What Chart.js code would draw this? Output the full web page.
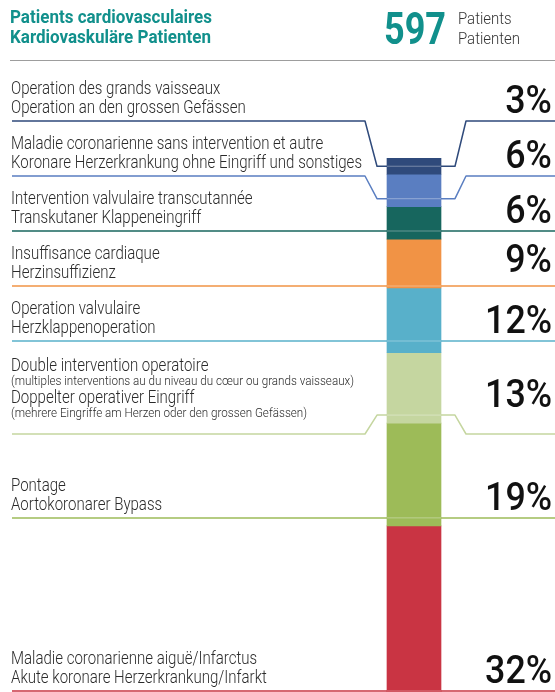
<!DOCTYPE html>
<html>
<head>
<meta charset="utf-8">
<script src="https://cdn.jsdelivr.net/npm/chart.js@4/dist/chart.umd.min.js"></script>
<style>
html, body { margin: 0; padding: 0; width: 555px; height: 692px; overflow: hidden; background: #fff; }
#wrap { position: relative; width: 555px; height: 700px; }
#chart { position: absolute; left: 0; top: 0; }
.txt { position: absolute; white-space: nowrap; line-height: normal; }
#rule { position: absolute; left: 10px; right: 0; top: 60px; border-top: 1.5px solid #9d9d9d; }
</style>
</head>
<body>
<div id="wrap">
    <canvas id="chart" width="555" height="700"></canvas>
    <div id="rule"></div>
    <div id="texts"></div>
</div>
<script>
// Data
const shares = [3, 6, 6, 9, 12, 13, 19, 32]
const namesFr = [
    'Operation des grands vaisseaux',
    'Maladie coronarienne sans intervention et autre',
    'Intervention valvulaire transcutannée',
    'Insuffisance cardiaque',
    'Operation valvulaire',
    'Double intervention operatoire',
    'Pontage',
    'Maladie coronarienne aiguë/Infarctus'
]
const namesDe = [
    'Operation an den grossen Gefässen',
    'Koronare Herzerkrankung ohne Eingriff und sonstiges',
    'Transkutaner Klappeneingriff',
    'Herzinsuffizienz',
    'Herzklappenoperation',
    'Doppelter operativer Eingriff',
    'Aortokoronarer Bypass',
    'Akute koronare Herzerkrankung/Infarkt'
]
const notesFr = ['', '', '', '', '', '(multiples interventions au du niveau du cœur ou grands vaisseaux)', '', '']
const notesDe = ['', '', '', '', '', '(mehrere Eingriffe am Herzen oder den grossen Gefässen)', '', '']
const titleLines = ['Patients cardiovasculaires', 'Kardiovaskuläre Patienten']
const totalPatients = 597
const totalLabels = ['Patients', 'Patienten']

// Styles
const colors = ['#2f4a7b', '#5a7ec1', '#17665e', '#f19345', '#58b0ca', '#c5d6a0', '#9dbb58', '#c93443']
const TEAL = '#11908c'
const FONT = 'Roboto, "Liberation Sans", sans-serif'
const fonts = {
    head: `bold 18px ${FONT}`,
    big: `bold 45px ${FONT}`,
    sub: `300 16px ${FONT}`,
    label: `300 18px ${FONT}`,
    note: `300 12px ${FONT}`,
    pct: `500 39px ${FONT}`
}
const layout = { top: 66, block: 55, noteExtra: 38, dip: 8, straightTol: 8, lineStart: 12 }

// Text helpers
const scratch = document.createElement('canvas').getContext('2d')
function measure(font, text) {
    scratch.font = font
    return scratch.measureText(text).width
}
// condense factors so the wide system fonts match the narrow print face
const squeeze = {
    head: 202 / measure(fonts.head, titleLines[0]),
    big: 62 / measure(fonts.big, String(totalPatients)),
    sub: 62 / measure(fonts.sub, totalLabels[1]),
    label: 351 / measure(fonts.label, namesDe[1]),
    note: 343 / measure(fonts.note, notesFr[5]),
    pct: 67 / measure(fonts.pct, '12%')
}

const baselineCache = {}
function baselineOffset(font) {
    if (baselineCache[font] !== undefined) return baselineCache[font]
    const d = document.createElement('div')
    d.className = 'txt'
    d.style.visibility = 'hidden'
    d.style.font = font
    d.style.lineHeight = 'normal'
    d.innerHTML = 'Hg<span style="display:inline-block;width:1px;height:0;vertical-align:baseline"></span>'
    document.body.appendChild(d)
    const off = d.lastChild.offsetTop
    d.remove()
    baselineCache[font] = off
    return off
}

function place(parent, text, kind, color, x, baseline, align) {
    const el = document.createElement('div')
    el.className = 'txt'
    el.textContent = text
    el.style.font = fonts[kind]
    el.style.lineHeight = 'normal'
    el.style.color = color
    el.style.top = (baseline - baselineOffset(fonts[kind])) + 'px'
    if (align === 'right') {
        el.style.right = (555 - x) + 'px'
        el.style.transformOrigin = '100% 0'
    } else {
        el.style.left = x + 'px'
        el.style.transformOrigin = '0 0'
    }
    el.style.transform = `scaleX(${squeeze[kind]})`
    parent.appendChild(el)
}

// Header
const wrap = document.getElementById('wrap')
place(wrap, titleLines[0], 'head', TEAL, 10, 23)
place(wrap, titleLines[1], 'head', TEAL, 10, 43)
place(wrap, String(totalPatients), 'big', TEAL, 384, 44)
place(wrap, totalLabels[0], 'sub', '#333', 458, 24)
place(wrap, totalLabels[1], 'sub', '#333', 458, 44)

// Label layout: rows pushed apart so every text block fits above its rule
function computeRows(y) {
    let sum = 0
    const ends = shares.map(v => (sum += v))
    const yIn = ends.map(e => y.getPixelForValue(e) - layout.dip)
    const block = shares.map((v, i) => layout.block + (notesFr[i] ? layout.noteExtra : 0))
    const out = yIn.slice()
    for (let i = out.length - 2; i >= 0; i--) {
        out[i] = Math.min(out[i], out[i + 1] - block[i + 1])
    }
    out[0] = Math.max(out[0], layout.top + block[0])
    for (let i = 1; i < out.length; i++) {
        out[i] = Math.max(out[i], out[i - 1] + block[i])
    }
    return shares.map((v, i) => ({
        yIn: yIn[i],
        yOut: out[i],
        straight: Math.abs(out[i] - yIn[i]) <= layout.straightTol
    }))
}

const leaderPlugin = {
    id: 'leaders',
    afterDatasetsDraw(chart) {
        const { ctx, scales: { y } } = chart
        const bar = chart.getDatasetMeta(0).data[0]
        const barL = bar.x - bar.width / 2
        const barR = bar.x + bar.width / 2
        const rows = computeRows(y)

        rows.forEach((r, i) => {
            ctx.save()
            ctx.strokeStyle = colors[i]
            ctx.lineWidth = 1.5
            ctx.lineJoin = 'round'
            ctx.beginPath()
            const yy = r.straight ? r.yOut : r.yIn
            if (r.straight) {
                ctx.moveTo(layout.lineStart, r.yOut)
                ctx.lineTo(chart.width, r.yOut)
            } else {
                ctx.moveTo(layout.lineStart, r.yOut)
                ctx.lineTo(barL - 22, r.yOut)
                ctx.lineTo(barL - 10, r.yIn)
                ctx.lineTo(barR + 14, r.yIn)
                ctx.lineTo(barR + 25, r.yOut)
                ctx.lineTo(chart.width, r.yOut)
            }
            ctx.stroke()
            // lighter stroke where it crosses the bar
            ctx.strokeStyle = 'rgba(255,255,255,0.35)'
            ctx.lineWidth = 1
            ctx.beginPath()
            ctx.moveTo(barL, yy)
            ctx.lineTo(barR, yy)
            ctx.stroke()
            ctx.restore()
        })
    },
    afterDraw(chart) {
        const holder = document.getElementById('texts')
        holder.innerHTML = ''
        const rows = computeRows(chart.scales.y)

        rows.forEach((r, i) => {
            // text lines, bottom-up
            const lines = [
                { t: namesFr[i], k: 'label' },
                { t: notesFr[i], k: 'note' },
                { t: namesDe[i], k: 'label' },
                { t: notesDe[i], k: 'note' }
            ].filter(l => l.t)
            let base = Math.min(r.yOut, r.yIn + 10) - 8
            for (let j = lines.length - 1; j >= 0; j--) {
                place(holder, lines[j].t, lines[j].k, '#2a2a2a', layout.lineStart - 1, base)
                if (j > 0) {
                    const cur = lines[j], prev = lines[j - 1]
                    base -= cur.k === 'note' ? 14 : (prev.k === 'note' ? 18 : 19)
                }
            }
            place(holder, shares[i] + '%', 'pct', '#111', 552, Math.min(r.yOut, r.yIn) - 8, 'right')
        })
    }
}

new Chart(document.getElementById('chart'), {
    type: 'bar',
    data: {
        labels: ['Patients'],
        datasets: shares.map((v, i) => ({
            label: namesFr[i],
            data: [v],
            backgroundColor: colors[i],
            borderWidth: 0,
            barThickness: 54
        }))
    },
    options: {
        responsive: false,
        animation: false,
        layout: { padding: { top: 158, bottom: 1, left: 273, right: 0 } },
        plugins: {
            legend: { display: false },
            tooltip: { enabled: false }
        },
        scales: {
            x: { stacked: true, display: false },
            y: { stacked: true, display: false, reverse: true, min: 0, max: 100 }
        }
    },
    plugins: [leaderPlugin]
})
</script>
</body>
</html>
